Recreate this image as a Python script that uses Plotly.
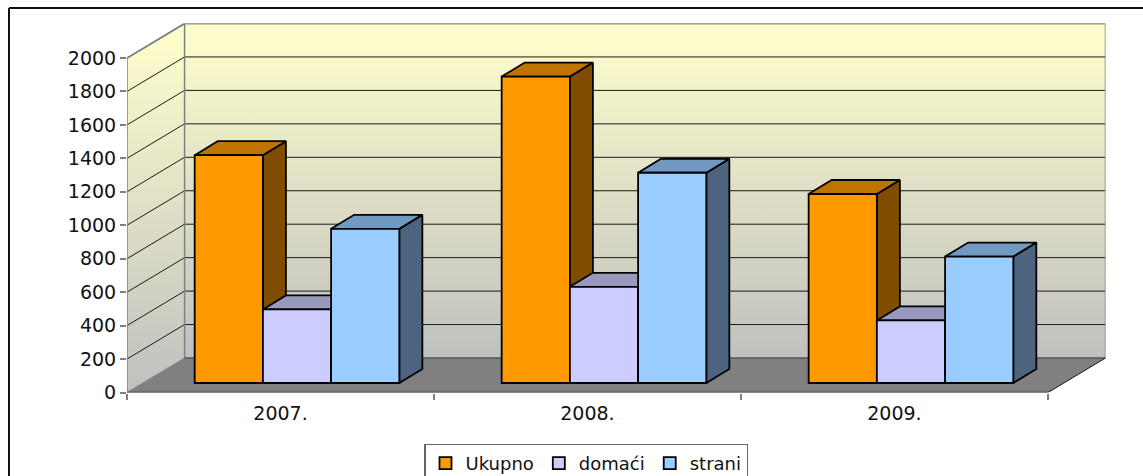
import plotly.graph_objects as go

# ---- data ----
years = ["2007.", "2008.", "2009."]
ukupno = [1362, 1832, 1130]
domaci = [440, 575, 374]
strani = [922, 1257, 756]
y_ticks = [0, 200, 400, 600, 800, 1000, 1200, 1400, 1600, 1800, 2000]

# ---- geometry of the oblique projection, in axis units ----
W, H = 1143, 476
PX_CAT = 920 / 3        # pixels per category
PX_VAL = 334.5 / 2000   # pixels per value unit
WALL_DX, WALL_DY = 57.5 / PX_CAT, 34.5 / PX_VAL
FRONT_DX, FRONT_DY = 16.5 / PX_CAT, 9.5 / PX_VAL
BAR_DX, BAR_DY = 23 / PX_CAT, 14 / PX_VAL
BAR_W = 1 / 4.5
N = len(years)
X_MAX = N + WALL_DX
Y_MAX = 2000 + WALL_DY
FONT = dict(family="DejaVu Sans", size=19, color="#111111")

series = [
    ("Ukupno", ukupno, "#FF9900", "#BF7300", "#7F4C00"),
    ("domaći", domaci, "#CCCCFF", "#9999BF", "#66667F"),
    ("strani", strani, "#99CCFF", "#7299BF", "#4D6480"),
]

fig = go.Figure()


def poly(xs, ys, fill=None, line="rgba(0,0,0,0)", width=1, gradient=None):
    kw = dict(fillgradient=gradient) if gradient else dict(fillcolor=fill)
    fig.add_trace(go.Scatter(
        x=xs, y=ys, mode="lines", fill="toself", showlegend=False, hoverinfo="skip",
        line=dict(color=line, width=width), **kw))


def seg(xs, ys, color, width):
    fig.add_trace(go.Scatter(
        x=xs, y=ys, mode="lines", showlegend=False, hoverinfo="skip",
        line=dict(color=color, width=width)))


grad = dict(type="vertical", colorscale=[[0, "#C0C0C0"], [1, "#FFFFCC"]])
# side wall, back wall, floor
poly([0, WALL_DX, WALL_DX, 0, 0], [0, WALL_DY, Y_MAX, 2000, 0], gradient=grad)
poly([WALL_DX, X_MAX, X_MAX, WALL_DX, WALL_DX], [WALL_DY, WALL_DY, Y_MAX, Y_MAX, WALL_DY], gradient=grad)
poly([0, N, X_MAX, WALL_DX, 0], [0, 0, WALL_DY, WALL_DY, 0], fill="#808080")

# gridlines
for v in y_ticks[1:]:
    seg([0, WALL_DX, X_MAX], [v, v + WALL_DY, v + WALL_DY],
        "#808080" if v == 2000 else "#1a1a1a", 1.5 if v == 2000 else 1)
# wall edges
seg([0, 0], [0, 2000], "#808080", 1.5)
seg([WALL_DX, WALL_DX], [WALL_DY, Y_MAX], "#808080", 1.5)
seg([0, WALL_DX, X_MAX, X_MAX], [2000, Y_MAX, Y_MAX, WALL_DY], "#808080", 1.5)
seg([0, WALL_DX], [0, WALL_DY], "#808080", 1)
seg([WALL_DX, X_MAX], [WALL_DY, WALL_DY], "#555555", 1.5)
seg([N, X_MAX], [0, WALL_DY], "#111111", 1)
seg([0, N], [0, 0], "#333333", 1.5)

# bar sides and tops, behind the real bars
for c in range(N):
    for s, (name, vals, front, top, side) in enumerate(series):
        left = c + 0.5 + FRONT_DX + (s - 1.5) * BAR_W
        right = left + BAR_W
        v = vals[c] + FRONT_DY
        poly([right, right + BAR_DX, right + BAR_DX, right, right],
             [FRONT_DY, FRONT_DY + BAR_DY, v + BAR_DY, v, FRONT_DY],
             fill=side, line="#000000", width=1.8)
        poly([left, right, right + BAR_DX, left + BAR_DX, left],
             [v, v, v + BAR_DY, v + BAR_DY, v],
             fill=top, line="#000000", width=1.8)

# the bars themselves, on an overlaid copy of the axes
for s, (name, vals, front, top, side) in enumerate(series):
    fig.add_trace(go.Bar(
        name=name, x=[c + 0.5 + FRONT_DX + (s - 1) * BAR_W for c in range(N)], y=vals,
        base=[FRONT_DY] * N, width=BAR_W, xaxis="x2", yaxis="y2",
        marker=dict(color=front, line=dict(color="#000000", width=1.8)), hoverinfo="skip"))

dom_x = [127 / W, 1105.5 / W]
dom_y = [(H - 392.5) / H, (H - 23.5) / H]
fig.update_layout(
    width=W, height=H, margin=dict(l=0, r=0, t=0, b=0, autoexpand=False), autosize=False,
    paper_bgcolor="white", plot_bgcolor="rgba(0,0,0,0)", barmode="overlay",
    font=FONT,
    xaxis=dict(domain=dom_x, range=[0, X_MAX], showgrid=False, zeroline=False, showline=False,
               tickmode="array", tickvals=[c + 0.5 for c in range(N)], ticktext=years,
               ticks="", ticklabelstandoff=7, tickfont=FONT,
               minor=dict(tickmode="array", tickvals=list(range(N + 1)), ticks="outside",
                          ticklen=6, tickcolor="#808080", tickwidth=1.5, showgrid=False)),
    yaxis=dict(domain=dom_y, range=[0, Y_MAX], showgrid=False, zeroline=False, showline=False,
               tickmode="array", tickvals=y_ticks, ticks="outside", ticklen=6,
               tickcolor="#808080", tickwidth=1.5, tickfont=FONT),
    xaxis2=dict(domain=dom_x, range=[0, X_MAX], overlaying="x", visible=False),
    yaxis2=dict(domain=dom_y, range=[0, Y_MAX], overlaying="y", visible=False),
    legend=dict(orientation="h", x=424 / W, y=(H - 443.5) / H, xanchor="left", yanchor="top",
                bgcolor="white", bordercolor="#666666", borderwidth=1.5,
                font=dict(family="DejaVu Sans", size=18, color="#111111"),
                itemclick=False, itemdoubleclick=False,
                traceorder="normal", itemwidth=30),
    shapes=[
        dict(type="line", xref="paper", yref="paper", x0=9 / W, x1=1, y0=(H - 8) / H, y1=(H - 8) / H,
             line=dict(color="#111111", width=2)),
        dict(type="line", xref="paper", yref="paper", x0=9 / W, x1=9 / W, y0=0, y1=(H - 8) / H,
             line=dict(color="#111111", width=2)),
    ],
)
fig.write_html("out.html", config=dict(displayModeBar=False),
               post_script="document.body.style.margin='0';document.body.style.overflow='hidden';"
                           "document.documentElement.style.overflow='hidden';")
